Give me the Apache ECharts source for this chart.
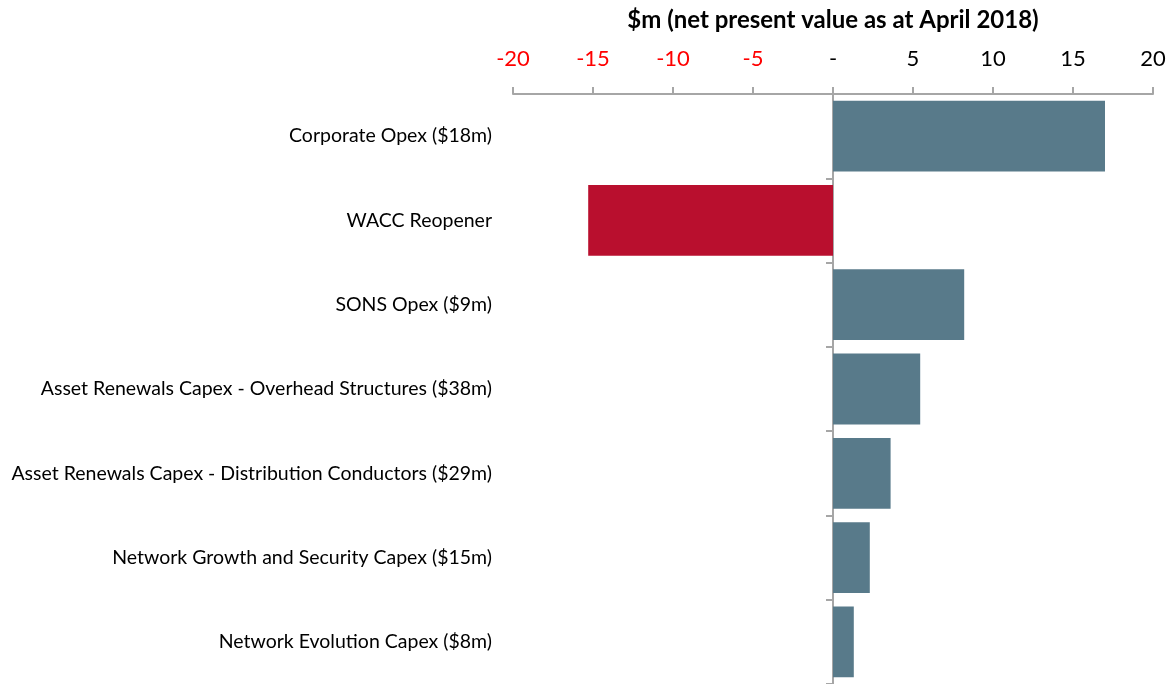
<!DOCTYPE html>
<html>
<head>
<meta charset="utf-8">
<script src="https://cdn.jsdelivr.net/npm/echarts@6/dist/echarts.min.js"></script>
<style>
  html, body { margin: 0; padding: 0; background: #fff; }
  #chart { width: 1175px; height: 684px; }
</style>
</head>
<body>
<div id="chart"></div>
<script>
// categories top to bottom
const categories = [
  "Corporate Opex ($18m)",
  "WACC Reopener",
  "SONS Opex ($9m)",
  "Asset Renewals Capex - Overhead Structures ($38m)",
  "Asset Renewals Capex - Distribution Conductors ($29m)",
  "Network Growth and Security Capex ($15m)",
  "Network Evolution Capex ($8m)"
];
const values = [17.0, -15.3, 8.2, 5.45, 3.6, 2.3, 1.3];
const axisMin = -20;
const axisMax = 20;
const axisStep = 5;

const FONT = "Lato, 'Open Sans', sans-serif";
const POS_COLOR = "#587a8a";
const NEG_COLOR = "#b90f2e";
const AXIS_GRAY = "#a6a6a6";

const chart = echarts.init(document.getElementById("chart"));

chart.setOption({
  animation: false,
  textStyle: { fontFamily: FONT },
  grid: { left: 513, right: 22, top: 94, bottom: 0, containLabel: false, outerBoundsMode: "none" },
  xAxis: {
    type: "value",
    position: "top",
    min: axisMin,
    max: axisMax,
    interval: axisStep,
    name: "$m (net present value as at April 2018)",
    nameLocation: "middle",
    nameGap: 62,
    nameTextStyle: { fontFamily: FONT, fontSize: 24, fontWeight: "bold", color: "#000" },
    splitLine: { show: false },
    axisLine: { show: true, lineStyle: { color: AXIS_GRAY, width: 2 } },
    axisTick: { show: true, inside: false, length: 7, lineStyle: { color: AXIS_GRAY, width: 2 } },
    axisLabel: {
      fontFamily: FONT,
      fontSize: 22,
      margin: 24,
      color: (v) => (Number(v) < 0 ? "#ff0000" : "#000000"),
      formatter: (v) => (v === 0 ? "-" : String(v))
    }
  },
  yAxis: {
    type: "category",
    inverse: true,
    data: categories,
    axisLine: { show: true, onZero: true, lineStyle: { color: AXIS_GRAY, width: 2 } },
    axisTick: { show: true, inside: false, length: 7, alignWithLabel: false, lineStyle: { color: AXIS_GRAY, width: 2 } },
    axisLabel: { fontFamily: FONT, fontSize: 19.5, color: "#000", margin: 21 },
    splitLine: { show: false }
  },
  series: [{
    type: "bar",
    data: values.map((v) => ({ value: v, itemStyle: { color: v < 0 ? NEG_COLOR : POS_COLOR } })),
    barCategoryGap: "16%",
    label: { show: false }
  }]
});
</script>
</body>
</html>
